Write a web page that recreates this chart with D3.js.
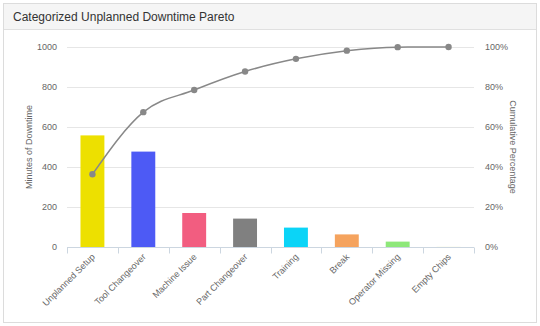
<!DOCTYPE html>
<html><head><meta charset="utf-8">
<script src="https://cdn.jsdelivr.net/npm/d3@7"></script>
<style>
body{margin:0;background:#fff;font-family:"Liberation Sans",Arial,sans-serif;}
</style></head>
<body><svg id="c" width="540" height="326"></svg>
<script>
const categories = ["Unplanned Setup","Tool Changeover","Machine Issue","Part Changeover","Training","Break","Operator Missing","Empty Chips"];
const minutes = [558, 477, 170, 142, 97, 63, 27, 1];
const barColors = ["#ede000","#4d5af5","#f25d80","#808080","#0bd4f7","#f5a35e","#8ee87a","#eef2cc"];
const leftTicks = [0,200,400,600,800,1000];
const rightTicks = [0,20,40,60,80,100];
const title = "Categorized Unplanned Downtime Pareto";

const total = d3.sum(minutes);
let run = 0;
const cumulative = minutes.map(v => (run += v) / total * 100);

const svg = d3.select("#c");
// panel
svg.append("rect").attr("x",3.5).attr("y",3.5).attr("width",533).attr("height",319)
  .attr("fill","#fff").attr("stroke","#dcdcdc");
svg.append("rect").attr("x",4).attr("y",4).attr("width",532).attr("height",25).attr("fill","#f5f5f5");
svg.append("line").attr("x1",4).attr("x2",536).attr("y1",29.5).attr("y2",29.5).attr("stroke","#e0e0e0");
svg.append("text").attr("x",13).attr("y",20.5).attr("font-size",12).attr("fill","#333").text(title);

const m = {l:67, r:474, t:47, b:247};
const x = d3.scaleBand().domain(categories).range([m.l, m.r]).paddingInner(0.53).paddingOuter(0.265);
const yL = d3.scaleLinear().domain([0,1000]).range([m.b, m.t]);
const yR = d3.scaleLinear().domain([0,100]).range([m.b, m.t]);

// gridlines
svg.append("g").selectAll("line").data(leftTicks.slice(1)).join("line")
  .attr("x1",m.l).attr("x2",m.r).attr("y1",d=>Math.round(yL(d))+0.5).attr("y2",d=>Math.round(yL(d))+0.5)
  .attr("stroke","#e6e6e6");

// left axis
const gl = svg.append("g").attr("transform",`translate(${m.l-10},0)`)
  .call(d3.axisLeft(yL).tickValues(leftTicks).tickFormat(d3.format("d")).tickSize(0).tickPadding(0));
gl.select(".domain").remove();
gl.selectAll("text").attr("font-size",9).attr("fill","#666").attr("font-family","Liberation Sans, Arial, sans-serif");

// right axis
const gr = svg.append("g").attr("transform",`translate(${m.r+11},0)`)
  .call(d3.axisRight(yR).tickValues(rightTicks).tickFormat(d=>d+"%").tickSize(0).tickPadding(0));
gr.select(".domain").remove();
gr.selectAll("text").attr("font-size",9).attr("fill","#666").attr("font-family","Liberation Sans, Arial, sans-serif");

// axis titles
svg.append("text").attr("transform",`translate(32,147) rotate(-90)`).attr("text-anchor","middle")
  .attr("font-size",9).attr("fill","#666").text("Minutes of Downtime");
svg.append("text").attr("transform",`translate(510,147) rotate(90)`).attr("text-anchor","middle")
  .attr("font-size",9).attr("fill","#666").text("Cumulative Percentage");

// bars
svg.append("g").selectAll("rect").data(minutes).join("rect")
  .attr("x",(d,i)=>x(categories[i])).attr("width",x.bandwidth())
  .attr("y",d=>yL(d)).attr("height",d=>m.b-yL(d))
  .attr("fill",(d,i)=>barColors[i]);

// x axis
const step = x.step();
const gx = svg.append("g").attr("transform",`translate(0,${m.b+0.5})`);
gx.append("line").attr("x1",m.l).attr("x2",m.r).attr("stroke","#ccd6e0");
const bounds = d3.range(categories.length+1).map(i => m.l + i*step);
gx.selectAll("line.t").data(bounds).join("line").attr("class","t")
  .attr("x1",d=>Math.round(d)+0.5).attr("x2",d=>Math.round(d)+0.5).attr("y1",0).attr("y2",6).attr("stroke","#ccd6e0");
gx.selectAll("text").data(categories).join("text")
  .attr("transform",d=>`translate(${x(d)+x.bandwidth()/2+3},${10}) rotate(-45)`)
  .attr("text-anchor","end").attr("font-size",9).attr("fill","#666").text(d=>d);

// pareto line
const line = d3.line().x((d,i)=>x(categories[i])+x.bandwidth()/2).y(d=>yR(d)).curve(d3.curveMonotoneX);
svg.append("path").datum(cumulative).attr("d",line).attr("fill","none").attr("stroke","#888").attr("stroke-width",1.5);
svg.append("g").selectAll("circle").data(cumulative).join("circle")
  .attr("cx",(d,i)=>x(categories[i])+x.bandwidth()/2).attr("cy",d=>yR(d)).attr("r",3.2).attr("fill","#888");
</script></body></html>
